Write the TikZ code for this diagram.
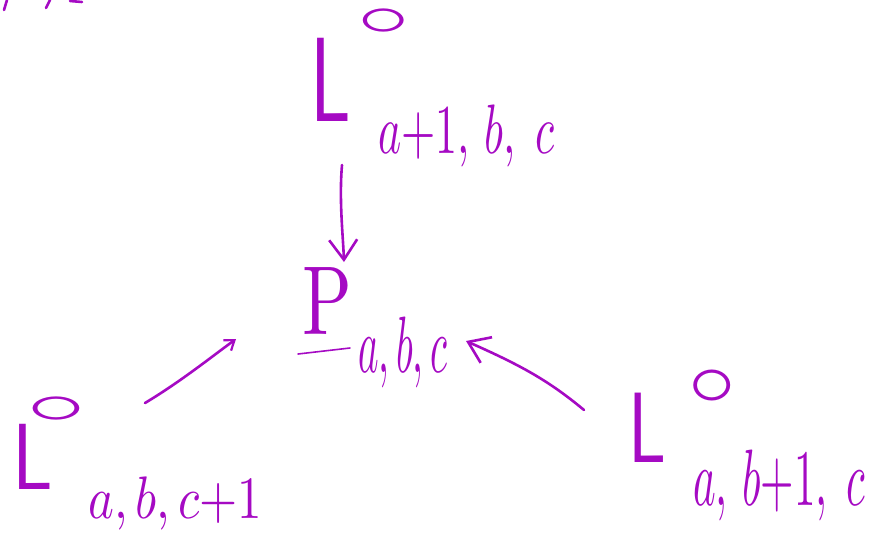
\documentclass[tikz,border=0pt]{standalone}
\usetikzlibrary{arrows.meta}
\definecolor{ink}{RGB}{165,10,195}
\begin{document}
\begin{tikzpicture}[x=1pt,y=-1pt,
  lbl/.style={text=ink,inner sep=0pt,anchor=base west},
  deg/.style={text=ink,inner sep=0pt,anchor=center},
  arr/.style={draw=ink,line width=2.6pt,line cap=round,
    -{Straight Barb[length=20pt,width=28pt,line width=2.6pt]}},
  smallarr/.style={draw=ink,line width=2.6pt,line cap=round,
    -{Straight Barb[length=9pt,width=13pt,line width=2.2pt]}},
  pen/.style={draw=ink,line width=2.6pt,line cap=round}]
\useasboundingbox (0,0) rectangle (872,547);
% top label
\node[lbl] (topL) at (310,121) {\scalebox{7.5}[12]{\sffamily L}};
\node[deg] (topO) at (384,22) {\scalebox{10.5}[6]{$\circ$}};
\node[lbl] (topS) at (378,153) {\scalebox{4.4}[7]{$a{+}1,\,b,\;c$}};
% centre label
\node[lbl] (P) at (302,334) {\scalebox{7.3}[9.8]{\rmfamily P}};
\node[lbl] (PS) at (358,372) {\scalebox{3.9}[8]{$a,b,c$}};
% bottom left label
\node[lbl] (blL) at (12,489) {\scalebox{7.5}[9.4]{\sffamily L}};
\node[deg] (blO) at (57,410) {\scalebox{12}[6]{$\circ$}};
\node[lbl] (blS) at (88,518) {\scalebox{4.9}[6]{$a,b,c{+}1$}};
% bottom right label
\node[lbl] (brL) at (628,462) {\scalebox{7}[10]{\sffamily L}};
\node[deg] (brO) at (712,388) {\scalebox{9.5}[8]{$\circ$}};
\node[lbl] (brS) at (693,505) {\scalebox{4.3}[8]{$a,\,b{+}1,\;c$}};
% arrows
\coordinate (t1) at (342,165);
\coordinate (t2) at (344,262);
\draw[arr] (t1) .. controls (339,200) and (343,235) .. (t2);
\coordinate (l1) at (145,403);
\coordinate (l2) at (236,339);
\draw[smallarr] (l1) .. controls (180,382) and (210,358) .. (l2);
\coordinate (r1) at (584,410);
\coordinate (r2) at (466,341);
\draw[arr] (r1) .. controls (548,380) and (520,365) .. (r2);
\coordinate (p1) at (298,354);
\coordinate (p2) at (350,348);
\draw[pen,line width=1.6pt] (p1) -- (p2);
% cut-off strokes at the top left
\draw[pen] (4,10) -- (7,0);
\draw[pen] (46,8) -- (50,0);
\draw[pen] (70,1) -- (82,2);
\end{tikzpicture}
\end{document}
